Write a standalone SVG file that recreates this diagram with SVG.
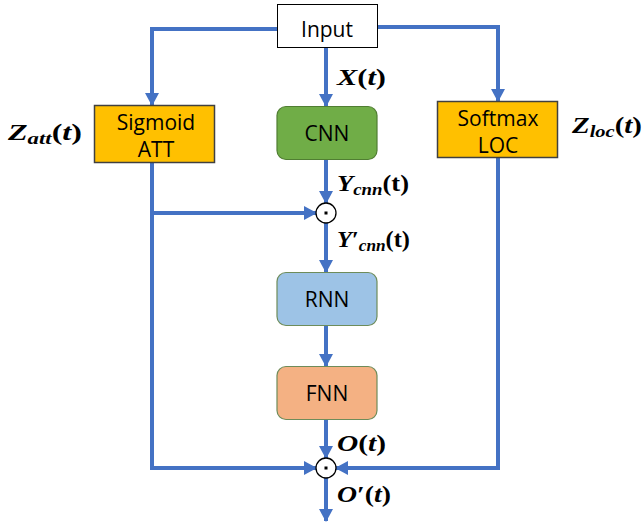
<svg xmlns="http://www.w3.org/2000/svg" width="644" height="522" viewBox="0 0 644 522">
<style>
.lbl{font-family:"Open Sans","Liberation Sans",sans-serif;font-size:21px;fill:#000;text-anchor:middle}
.m{font-family:"Liberation Serif","DejaVu Serif",serif;font-weight:bold;font-size:24px;fill:#000}
.it{font-style:italic}
.sub{font-size:17px}
.ln{fill:none;stroke:#4472C4;stroke-width:4}
</style>
<defs>
<marker id="ah" markerUnits="userSpaceOnUse" markerWidth="14" markerHeight="14" viewBox="0 0 14 14" refX="12" refY="7" orient="auto">
<path d="M0,0 L13,7 L0,14 Z" fill="#4472C4"/>
</marker>
</defs>
<rect width="644" height="522" fill="#fff"/>
<g id="connectors">
<path class="ln" d="M277,29 H152 V105" marker-end="url(#ah)"/>
<path class="ln" d="M378,27 H498 V101" marker-end="url(#ah)"/>
<path class="ln" d="M326,48 V106" marker-end="url(#ah)"/>
<path class="ln" d="M326,160 V203" marker-end="url(#ah)"/>
<path class="ln" d="M152,163 V468 H316" marker-end="url(#ah)"/>
<path class="ln" d="M150,213 H316" marker-end="url(#ah)"/>
<path class="ln" d="M498,158 V468 H336" marker-end="url(#ah)"/>
<path class="ln" d="M326,223 V272" marker-end="url(#ah)"/>
<path class="ln" d="M326,325 V366" marker-end="url(#ah)"/>
<path class="ln" d="M326,420 V458" marker-end="url(#ah)"/>
<path class="ln" d="M326,478 V521" marker-end="url(#ah)"/>
</g>
<g id="input">
<rect x="277.5" y="4.5" width="100" height="43" fill="#fff" stroke="#000" stroke-width="1"/>
<text class="lbl" x="327" y="37">Input</text>
</g>
<g id="sigmoid">
<rect x="94.5" y="105.5" width="120" height="57" fill="#FFC000" stroke="#404040" stroke-width="1.5"/>
<text class="lbl" x="156" y="130">Sigmoid</text>
<text class="lbl" x="156" y="157">ATT</text>
</g>
<g id="cnn">
<rect x="277" y="106.5" width="100" height="53" rx="9" fill="#70AD47" stroke="#507E32" stroke-width="1.2"/>
<text class="lbl" x="327" y="141">CNN</text>
</g>
<g id="softmax">
<rect x="437.5" y="101.5" width="120" height="56" fill="#FFC000" stroke="#404040" stroke-width="1.5"/>
<text class="lbl" x="498" y="126">Softmax</text>
<text class="lbl" x="498" y="153">LOC</text>
</g>
<g id="rnn">
<rect x="277" y="272.5" width="100" height="53" rx="9" fill="#9DC3E6" stroke="#6E8C5A" stroke-width="1.2"/>
<text class="lbl" x="327" y="307">RNN</text>
</g>
<g id="fnn">
<rect x="277" y="366.5" width="100" height="53" rx="9" fill="#F4B183" stroke="#6E8C5A" stroke-width="1.2"/>
<text class="lbl" x="327" y="401">FNN</text>
</g>
<g id="mult1">
<circle cx="326" cy="213" r="10" fill="#fff" stroke="#000" stroke-width="1.3"/>
<rect x="324.5" y="211.5" width="3" height="3" fill="#000"/>
</g>
<g id="mult2">
<circle cx="326" cy="468" r="10" fill="#fff" stroke="#000" stroke-width="1.3"/>
<rect x="324.5" y="466.5" width="3" height="3" fill="#000"/>
</g>
<g id="labels">
<text class="m" x="337" y="85" textLength="49" lengthAdjust="spacingAndGlyphs"><tspan class="it">X</tspan>(<tspan class="it">t</tspan>)</text>
<text class="m" x="8" y="140" textLength="74" lengthAdjust="spacingAndGlyphs"><tspan class="it">Z</tspan><tspan class="it sub" dy="4">att</tspan><tspan dy="-4">(</tspan><tspan class="it">t</tspan>)</text>
<text class="m" x="572" y="133" textLength="70" lengthAdjust="spacingAndGlyphs"><tspan class="it">Z</tspan><tspan class="it sub" dy="4">loc</tspan><tspan dy="-4">(</tspan><tspan class="it">t</tspan>)</text>
<text class="m" x="337" y="191" textLength="72" lengthAdjust="spacingAndGlyphs"><tspan class="it">Y</tspan><tspan class="it sub" dy="4">cnn</tspan><tspan dy="-4">(t)</tspan></text>
<text class="m" x="337" y="247" textLength="73" lengthAdjust="spacingAndGlyphs"><tspan class="it">Y</tspan>′<tspan class="it sub" dy="4">cnn</tspan><tspan dy="-4">(t)</tspan></text>
<text class="m" x="337" y="451" textLength="49" lengthAdjust="spacingAndGlyphs"><tspan class="it">O</tspan>(<tspan class="it">t</tspan>)</text>
<text class="m" x="337" y="502" textLength="54" lengthAdjust="spacingAndGlyphs"><tspan class="it">O</tspan>′(<tspan class="it">t</tspan>)</text>
</g>
</svg>
